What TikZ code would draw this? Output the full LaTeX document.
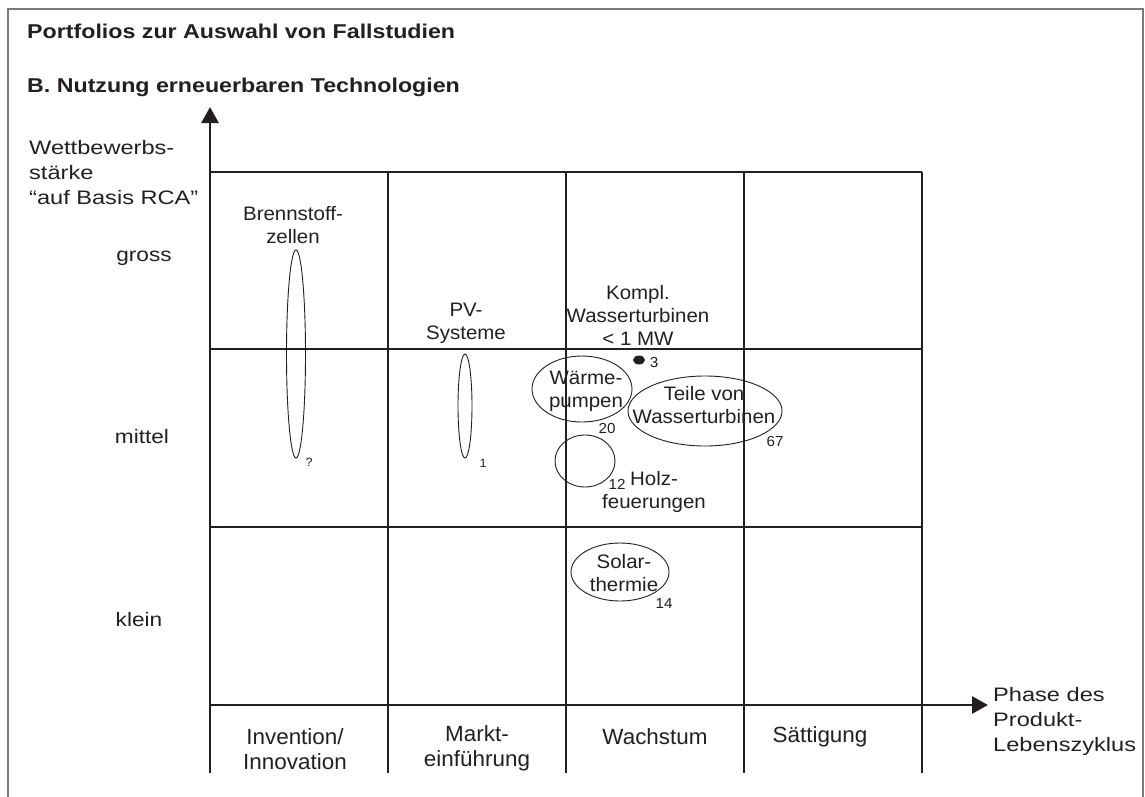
\documentclass[tikz,border=0pt]{standalone}
\usepackage{fontspec}
\setmainfont{Liberation Sans}[FakeStretch=1.05]
\newfontfamily\plainfont{Liberation Sans}[FakeStretch=1.02]
\newfontfamily\midfont{Liberation Sans}[FakeStretch=1.16]
\newfontfamily\widefont{Liberation Sans}[FakeStretch=1.21]
\usetikzlibrary{arrows.meta,shapes.geometric}
\definecolor{ink}{HTML}{231F20}
\definecolor{framegray}{HTML}{7A7A7A}
\tikzset{
  gridline/.style={draw=ink, line width=2.8pt},
  axisline/.style={draw=ink, line width=2.8pt, -{Triangle[length=16pt,width=17pt]}},
  txt/.style={font=\fontsize{19.5}{23}\selectfont, text=ink, inner sep=0pt, align=center},
  sidetxt/.style={font=\midfont\fontsize{19.5}{24}\selectfont, text=ink, inner sep=0pt},
  ltxt/.style={font=\widefont\fontsize{19.5}{25}\selectfont, text=ink, inner sep=0pt, align=left},
  btxt/.style={font=\plainfont\fontsize{22}{25}\selectfont, text=ink, inner sep=0pt, align=center},
  num/.style={font=\fontsize{14.5}{16}\selectfont, text=ink, inner sep=0pt},
  smallnum/.style={font=\fontsize{12}{14}\selectfont, text=ink, inner sep=0pt},
  oval/.style={ellipse, draw=ink, line width=0.9pt, inner sep=0pt},
  ttl/.style={font=\midfont\bfseries\fontsize{20}{24}\selectfont, text=ink, inner sep=0pt, anchor=west},
}
\begin{document}
\begin{tikzpicture}[x=1pt,y=-1pt]
\useasboundingbox (0,0) rectangle (1145,796);
% outer frame
\draw[framegray, line width=1.5pt] (8,800) -- (8,9) -- (1143,9) -- (1143,800);
% titles
\node[ttl] (t1) at (27,31) {Portfolios zur Auswahl von Fallstudien};
\node[ttl] (t2) at (27,87) {B. Nutzung erneuerbaren Technologien};
% coordinates
\coordinate (ybot) at (210,773);
\coordinate (ytop) at (210,107);
\coordinate (xl) at (210,705);
\coordinate (xr) at (988,705);
\foreach \x/\n in {388/a,566/b,744/c,922/d} {
  \coordinate (c\n top) at (\x,172);
  \coordinate (c\n bot) at (\x,773);
}
\foreach \y/\n in {172/a,349/b,527/c} {
  \coordinate (r\n l) at (210,\y);
  \coordinate (r\n r) at (922,\y);
}
% grid
\foreach \n in {a,b,c,d} \draw[gridline] (c\n top) -- (c\n bot);
\foreach \n in {a,b,c} \draw[gridline] (r\n l) -- (r\n r);
\draw[axisline] (ybot) -- (ytop);
\draw[axisline] (xl) -- (xr);
% axis labels
\node[ltxt, anchor=west] (ylab) at (29,173) {Wettbewerbs-\\stärke\\“auf Basis RCA”};
\node[sidetxt] (gross) at (144,258) {gross};
\node[sidetxt] (mittel) at (142,437) {mittel};
\node[sidetxt] (klein) at (139,620) {klein};
\node[ltxt, anchor=west] (xlab) at (993,721) {Phase des\\Produkt-\\Lebenszyklus};
% phases
\node[btxt] (p1) at (295,749) {Invention/\\Innovation};
\node[btxt] (p2) at (477,748) {Markt-\\einführung};
\node[btxt] (p3) at (655,737) {Wachstum};
\node[btxt] (p4) at (820,737) {Sättigung};
% Brennstoffzellen
\node[txt] (bzt) at (293,225) {Brennstoff-\\zellen};
\node[oval, minimum width=19pt, minimum height=208pt] (bz) at (296,354) {};
\node[smallnum] (bzn) at (309,462) {?};
% PV
\node[txt] (pvt) at (466,323) {PV-\\Systeme};
\node[oval, minimum width=14pt, minimum height=104pt] (pv) at (465,406) {};
\node[smallnum] (pvn) at (483,463) {1};
% Kompl. Wasserturbinen
\node[txt] (kwt) at (638,315) {Kompl.\\Wasserturbinen\\< 1 MW};
\node[ellipse, fill=ink, inner sep=0pt, minimum width=12pt, minimum height=9pt] (kw) at (639,360) {};
\node[num] (kwn) at (654,362) {3};
% Waermepumpen
\node[oval, minimum width=100pt, minimum height=66pt] (wp) at (582,389) {};
\node[txt] (wpt) at (586,391) {Wärme-\\pumpen};
\node[num] (wpn) at (607,428) {20};
% Teile von Wasserturbinen
\node[oval, minimum width=154pt, minimum height=70pt] (tw) at (705,411) {};
\node[txt] (twt) at (704,405) {Teile von\\Wasserturbinen};
\node[num] (twn) at (775,441) {67};
% Holzfeuerungen
\node[oval, minimum width=60pt, minimum height=52pt] (hf) at (585,461) {};
\node[num] (hfn) at (617,484) {12};
\node[txt] (hft) at (654,492) {Holz-\\feuerungen};
% Solarthermie
\node[oval, minimum width=98pt, minimum height=58pt] (st) at (620,572) {};
\node[txt] (stt) at (624,573) {Solar-\\thermie};
\node[num] (stn) at (664,603) {14};
\end{tikzpicture}
\end{document}
